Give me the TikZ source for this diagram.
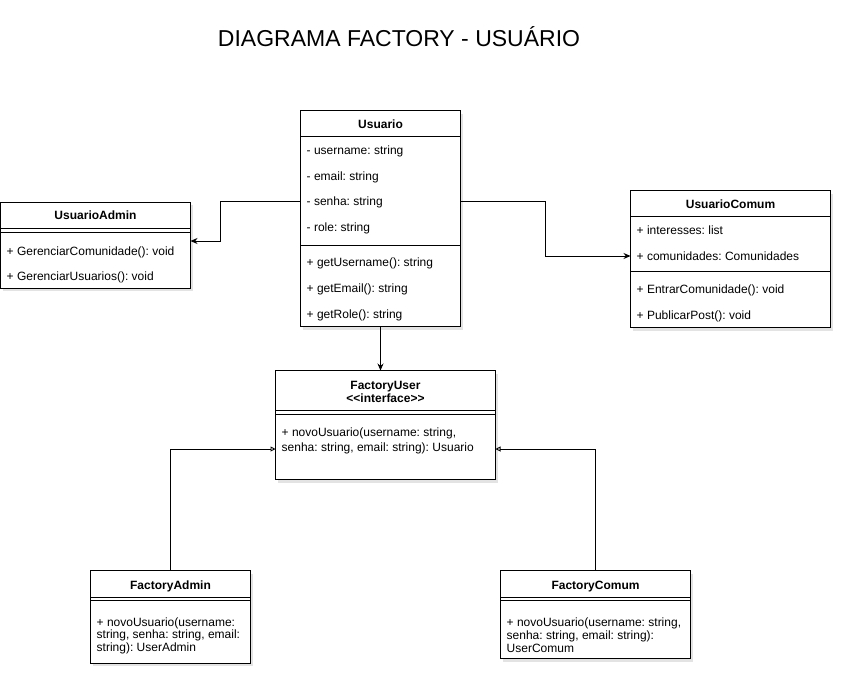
\documentclass[tikz,border=0pt]{standalone}
\usepackage{fontspec}
\setmainfont{Liberation Sans}
\frenchspacing
\usetikzlibrary{arrows.meta,shadows,calc}
\begin{document}
\begin{tikzpicture}[x=1pt,y=-1pt,
  box/.style={draw=black, line width=0.9pt, fill=white, anchor=north west, inner sep=0pt, outer sep=0pt,
    drop shadow={shadow xshift=2pt, shadow yshift=-3pt, opacity=0.22}},
  sep/.style={line width=0.9pt},
  txt/.style={anchor=west, inner sep=0pt, font=\fontsize{12}{14}\selectfont, text height=8.6pt, text depth=0pt},
  hdr/.style={anchor=center, inner sep=0pt, font=\bfseries\fontsize{12}{14}\selectfont, text height=8.6pt, text depth=0pt},
  assoc/.style={-{Stealth[length=7pt,width=6pt]}, line width=0.9pt},
  inh/.style={-{Triangle[open,length=5pt,width=5pt]}, line width=0.9pt}
]
\useasboundingbox (0,0) rectangle (842,678);

% title
\node[inner sep=0pt, font=\fontsize{23}{28}\selectfont] (title) at (399,37) {DIAGRAMA FACTORY - USUÁRIO};

% Usuario
\node[box, minimum width=160pt, minimum height=216pt] (usuario) at (300.5,110.5) {};
\draw[sep] (300.5,136) -- (460.5,136);
\draw[sep] (300.5,245) -- (460.5,245);
\node[hdr] (uh) at (380.5,124) {Usuario};
\node[txt] (u1) at (306.5,150) {- username: string};
\node[txt] (u2) at (306.5,176) {- email: string};
\node[txt] (u3) at (306.5,201) {- senha: string};
\node[txt] (u4) at (306.5,227) {- role: string};
\node[txt] (u5) at (306.5,262) {+ getUsername(): string};
\node[txt] (u6) at (306.5,288) {+ getEmail(): string};
\node[txt] (u7) at (306.5,314) {+ getRole(): string};

% UsuarioAdmin
\node[box, minimum width=190pt, minimum height=86pt] (ua) at (0.5,202) {};
\draw[sep] (0.5,228) -- (190.5,228);
\draw[sep] (0.5,232) -- (190.5,232);
\node[hdr] (uah) at (95.5,215.5) {UsuarioAdmin};
\node[txt] (a1) at (6.5,251) {+ GerenciarComunidade(): void};
\node[txt] (a2) at (6.5,276) {+ GerenciarUsuarios(): void};

% UsuarioComum
\node[box, minimum width=200pt, minimum height=137pt] (uc) at (630.5,190.5) {};
\draw[sep] (630.5,216) -- (830.5,216);
\draw[sep] (630.5,271) -- (830.5,271);
\node[hdr] (uch) at (730.5,204) {UsuarioComum};
\node[txt] (c1) at (636.5,230) {+ interesses: list};
\node[txt] (c2) at (636.5,256) {+ comunidades: Comunidades};
\node[txt] (c3) at (636.5,289) {+ EntrarComunidade(): void};
\node[txt] (c4) at (636.5,315) {+ PublicarPost(): void};

% FactoryUser
\node[box, minimum width=220pt, minimum height=109pt] (fu) at (275.5,370.5) {};
\draw[sep] (275.5,410) -- (495.5,410);
\draw[sep] (275.5,414) -- (495.5,414);
\node[hdr] (fuh1) at (385.5,385) {FactoryUser};
\node[hdr] (fuh2) at (385.5,398.5) {{<}{<}interface{>}{>}};
\node[txt] (f1) at (281.5,432) {+ novoUsuario(username: string,};
\node[txt] (f2) at (281.5,447) {senha: string, email: string): Usuario};

% FactoryAdmin
\node[box, minimum width=160pt, minimum height=92.5pt] (fa) at (90.5,570.5) {};
\draw[sep] (90.5,597) -- (250.5,597);
\draw[sep] (90.5,600.5) -- (250.5,600.5);
\node[hdr] (fah) at (170.5,585) {FactoryAdmin};
\node[txt] (fa1) at (96.5,622) {+ novoUsuario(username:};
\node[txt] (fa2) at (96.5,634.5) {string, senha: string, email:};
\node[txt] (fa3) at (96.5,647) {string): UserAdmin};

% FactoryComum
\node[box, minimum width=190pt, minimum height=88pt] (fc) at (500.5,570.5) {};
\draw[sep] (500.5,597) -- (690.5,597);
\draw[sep] (500.5,600.5) -- (690.5,600.5);
\node[hdr] (fch) at (595.5,585) {FactoryComum};
\node[txt] (fc1) at (506.5,622.5) {+ novoUsuario(username: string,};
\node[txt] (fc2) at (506.5,635.5) {senha: string, email: string):};
\node[txt] (fc3) at (506.5,648.5) {UserComum};

% connectors
\draw[assoc] (usuario.west |- u3) -| (220.5,241) -- (ua.east |- 0,241);
\draw[assoc] (usuario.east |- u3) -| (545.5,256) -- (uc.west |- c2);
\draw[assoc] (usuario.south) -- (usuario.south |- fu.north);
\draw[inh] (fa.north) |- (fu.west |- 0,449);
\draw[inh] (fc.north) |- (fu.east |- 0,449);
\end{tikzpicture}
\end{document}
